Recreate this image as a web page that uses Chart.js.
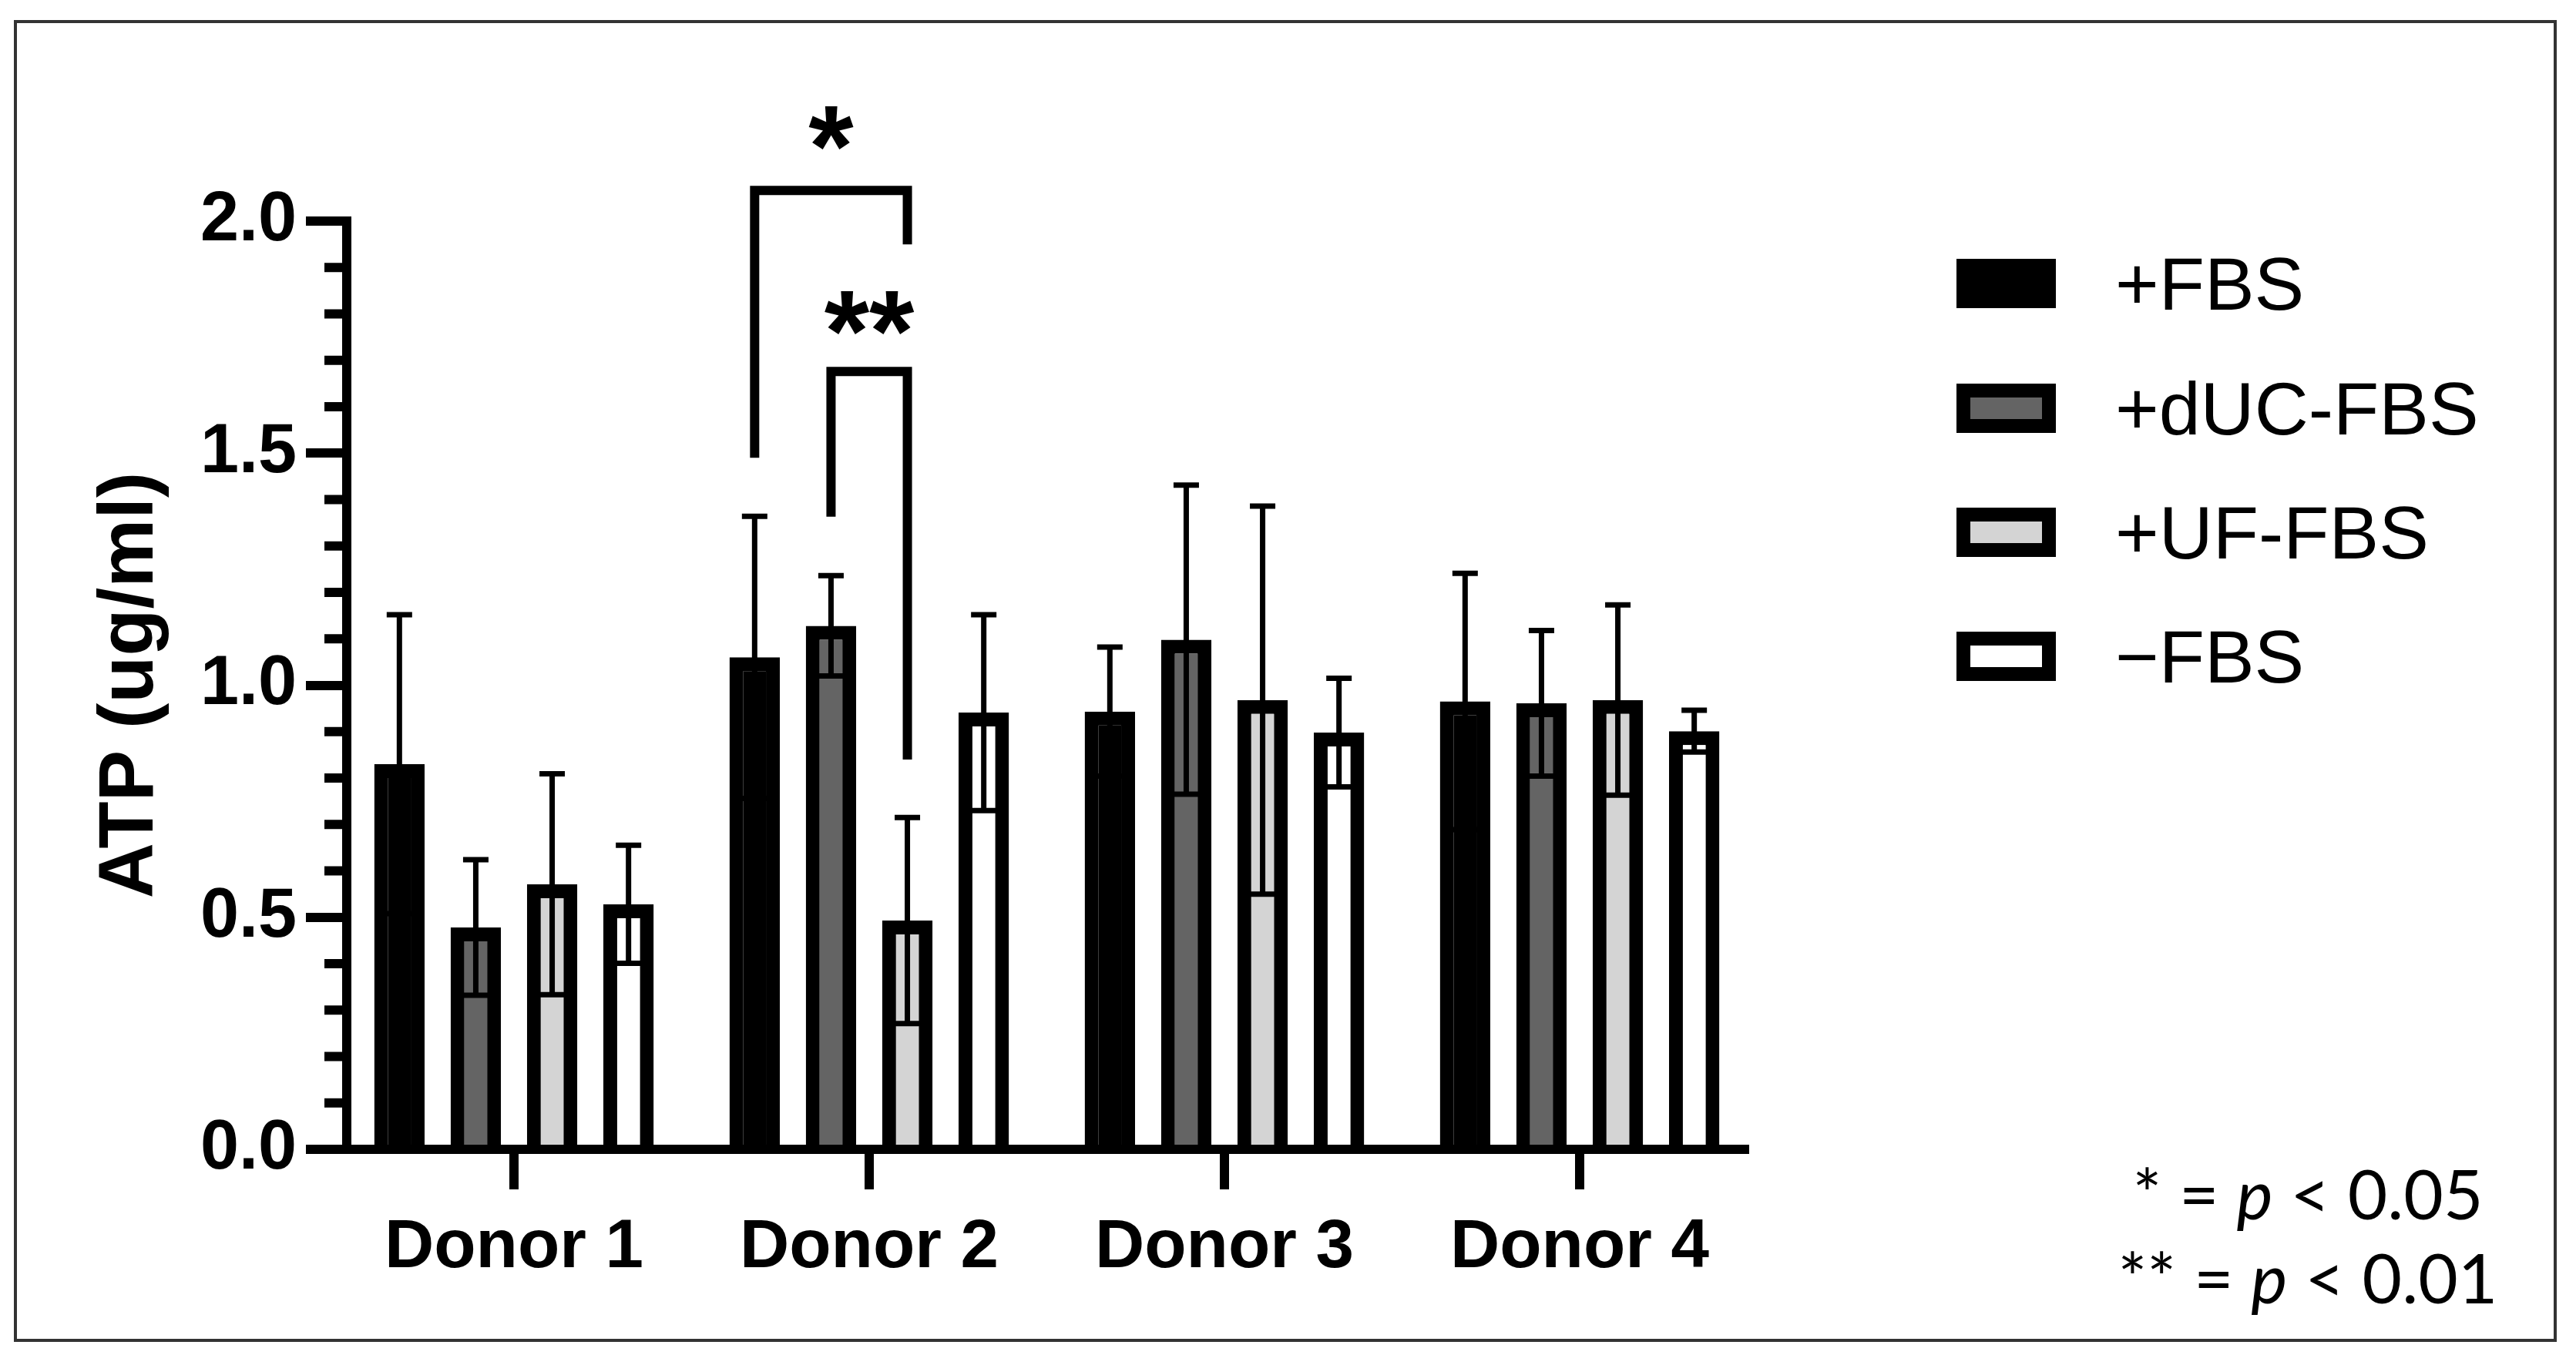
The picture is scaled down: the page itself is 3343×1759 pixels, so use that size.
<!DOCTYPE html>
<html>
<head>
<meta charset="utf-8">
<title>ATP by donor</title>
<script src="https://cdn.jsdelivr.net/npm/chart.js@4.4.1/dist/chart.umd.min.js"></script>
<style>
  body { margin: 0; background: #fff; }
  #wrap { position: relative; width: 3343px; height: 1759px; background: #fff; }
  #frame { position: absolute; left: 18px; top: 26px; width: 3300px; height: 1716px;
           box-sizing: border-box; border: 4px solid #333; pointer-events: none; }
  #chart { position: absolute; left: 0; top: 0; }
  #legend { position: absolute; left: 2539px; top: 336px;
            font-family: "Liberation Sans", Arial, sans-serif; font-size: 97px; color: #000; }
  .item { position: absolute; left: 0; height: 64px; display: flex; align-items: center; white-space: nowrap; }
  .box { width: 93px; height: 28px; border: 18px solid #000; flex: none; }
  .lbl { margin-left: 77px; line-height: 1; }
  .note { position: absolute; left: 2695px; width: 600px; text-align: center;
          font-family: Lato, "Open Sans", sans-serif; font-size: 89px; line-height: 1; color: #000; }
</style>
</head>
<body>
<div id="wrap">
  <canvas id="chart" width="3343" height="1759" style="width:3343px;height:1759px"></canvas>
  <div id="legend"></div>
  <div class="note" style="top:1504px">* = <i>p</i> &lt; 0.05</div>
  <div class="note" style="top:1613px">** = <i>p</i> &lt; 0.01</div>
  <div id="frame"></div>
</div>
<script>
// values (mean and SD, ug/ml)
var donors = ['Donor 1', 'Donor 2', 'Donor 3', 'Donor 4'];
var groups = ['+FBS', '+dUC-FBS', '+UF-FBS', '\u2212FBS'];

var fbsMean   = [0.830, 1.060, 0.943, 0.965];
var fbsSd     = [0.322, 0.304, 0.139, 0.276];
var ducMean   = [0.478, 1.128, 1.098, 0.961];
var ducSd     = [0.146, 0.108, 0.333, 0.157];
var ufMean    = [0.571, 0.493, 0.968, 0.968];
var ufSd      = [0.238, 0.222, 0.418, 0.205];
var noFbsMean = [0.528, 0.941, 0.898, 0.901];
var noFbsSd   = [0.127, 0.211, 0.117, 0.045];

var fills = ['#000000', '#646464', '#d4d4d4', '#ffffff'];

var yTicks = [0, 0.5, 1.0, 1.5, 2.0];
var yMinorStep = 0.1;

// significance brackets (Donor 2): from group, to group, level, leg ends, label
var sigDonor    = [1, 1];
var sigFrom     = [0, 1];
var sigTo       = [2, 2];
var sigLevel    = [2.066, 1.676];
var sigLeftEnd  = [1.490, 1.363];
var sigRightEnd = [1.950, 0.840];
var sigText     = ['*', '**'];
var sigTextY    = [2.200, 1.801];

var means = [fbsMean, ducMean, ufMean, noFbsMean];
var sds = [fbsSd, ducSd, ufSd, noFbsSd];

Chart.defaults.font.family = "'Liberation Sans', Arial, sans-serif";
Chart.defaults.color = '#000';

var datasets = [];
for (var i = 0; i < groups.length; i++) {
  datasets.push({
    label: groups[i],
    data: means[i],
    sd: sds[i],
    backgroundColor: fills[i],
    borderColor: '#000',
    borderWidth: 18,
    categoryPercentage: 0.86,
    barPercentage: 0.66
  });
}

// GraphPad leaves a smaller gap at the ends of the x axis than between groups
var xSpread = {
  id: 'xSpread',
  afterLayout: function(chart) {
    var s = chart.scales.x, a = chart.chartArea;
    s.left = a.left - 13.5;
    s.right = a.right + 16.5;
    s.width = s.right - s.left;
    s.configure();
  }
};

var axisLine = {
  id: 'axisLine',
  afterDraw: function(chart) {
    var ctx = chart.ctx, a = chart.chartArea;
    ctx.save();
    ctx.strokeStyle = '#000';
    ctx.lineWidth = 12;
    ctx.beginPath();
    ctx.moveTo(a.left - 6, a.bottom);
    ctx.lineTo(a.right + 6, a.bottom);
    ctx.stroke();
    ctx.restore();
  }
};

var errorBars = {
  id: 'errorBars',
  afterDatasetsDraw: function(chart) {
    var ctx = chart.ctx, y = chart.scales.y;
    ctx.save();
    ctx.strokeStyle = '#000';
    ctx.lineWidth = 7;
    chart.data.datasets.forEach(function(ds, i) {
      chart.getDatasetMeta(i).data.forEach(function(bar, j) {
        var top = y.getPixelForValue(ds.data[j] + ds.sd[j]);
        var bot = y.getPixelForValue(ds.data[j] - ds.sd[j]);
        ctx.beginPath();
        ctx.moveTo(bar.x, bot); ctx.lineTo(bar.x, top);
        ctx.moveTo(bar.x - 16.5, top); ctx.lineTo(bar.x + 16.5, top);
        ctx.moveTo(bar.x - 16.5, bot); ctx.lineTo(bar.x + 16.5, bot);
        ctx.stroke();
      });
    });
    ctx.restore();
  }
};

var minorTicks = {
  id: 'minorTicks',
  afterDraw: function(chart) {
    var ctx = chart.ctx, y = chart.scales.y, x0 = chart.chartArea.left - 6;
    ctx.save();
    ctx.strokeStyle = '#000';
    ctx.lineWidth = 12;
    for (var k = 1; k < 20; k++) {
      if (k % 5 === 0) continue;
      var py = y.getPixelForValue(k * yMinorStep);
      ctx.beginPath();
      ctx.moveTo(x0, py); ctx.lineTo(x0 - 23, py);
      ctx.stroke();
    }
    ctx.restore();
  }
};

var sigMarks = {
  id: 'sigMarks',
  afterDraw: function(chart) {
    var ctx = chart.ctx, y = chart.scales.y;
    ctx.save();
    ctx.strokeStyle = '#000';
    ctx.fillStyle = '#000';
    ctx.lineWidth = 12;
    ctx.lineJoin = 'miter';
    ctx.font = 'bold 150px "Liberation Sans", Arial, sans-serif';
    ctx.textAlign = 'center';
    ctx.textBaseline = 'alphabetic';
    for (var s = 0; s < sigText.length; s++) {
      var x1 = chart.getDatasetMeta(sigFrom[s]).data[sigDonor[s]].x;
      var x2 = chart.getDatasetMeta(sigTo[s]).data[sigDonor[s]].x;
      var yl = y.getPixelForValue(sigLevel[s]);
      ctx.beginPath();
      ctx.moveTo(x1, y.getPixelForValue(sigLeftEnd[s]));
      ctx.lineTo(x1, yl);
      ctx.lineTo(x2, yl);
      ctx.lineTo(x2, y.getPixelForValue(sigRightEnd[s]));
      ctx.stroke();
      var m = ctx.measureText(sigText[s]);
      var mid = (m.actualBoundingBoxAscent - m.actualBoundingBoxDescent) / 2;
      ctx.fillText(sigText[s], (x1 + x2) / 2, y.getPixelForValue(sigTextY[s]) + mid);
    }
    ctx.restore();
  }
};

var chart = new Chart(document.getElementById('chart'), {
  type: 'bar',
  data: { labels: donors, datasets: datasets },
  options: {
    responsive: false,
    devicePixelRatio: 1,
    animation: false,
    layout: { padding: { left: 0, top: 287, right: 1079, bottom: 67 } },
    plugins: { legend: { display: false }, tooltip: { enabled: false } },
    scales: {
      x: {
        type: 'category',
        afterFit: function(s) { s.height = 200; },
        grid: { offset: false, drawOnChartArea: false, drawTicks: true, tickLength: 52,
                lineWidth: 12, color: '#000' },
        border: { display: false },
        ticks: { padding: 23, color: '#000', maxRotation: 0,
                 font: { size: 89, weight: 'bold' } }
      },
      y: {
        min: 0, max: 2,
        afterFit: function(s) { s.width = 450; },
        afterBuildTicks: function(s) { s.ticks = yTicks.map(function(v) { return { value: v }; }); },
        grid: { drawOnChartArea: false, drawTicks: true, tickLength: 53,
                lineWidth: 12, color: '#000' },
        border: { display: true, width: 12, color: '#000' },
        ticks: { padding: 12, color: '#000',
                 font: { size: 90, weight: 'bold' },
                 callback: function(v) { return Number(v).toFixed(1); } },
        title: { display: true, text: 'ATP (ug/ml)', color: '#000',
                 padding: { top: 110, bottom: 0 },
                 font: { size: 100, weight: 'bold' } }
      }
    }
  },
  plugins: [xSpread, axisLine, errorBars, minorTicks, sigMarks]
});

// legend, built from the datasets
var legend = document.getElementById('legend');
var legendTops = [0, 162, 323, 484];
datasets.forEach(function(ds, i) {
  var item = document.createElement('div');
  item.className = 'item';
  item.style.top = legendTops[i] + 'px';
  var box = document.createElement('div');
  box.className = 'box';
  box.style.background = ds.backgroundColor;
  var lbl = document.createElement('span');
  lbl.className = 'lbl';
  lbl.textContent = ds.label;
  item.appendChild(box);
  item.appendChild(lbl);
  legend.appendChild(item);
});
</script>
</body>
</html>
